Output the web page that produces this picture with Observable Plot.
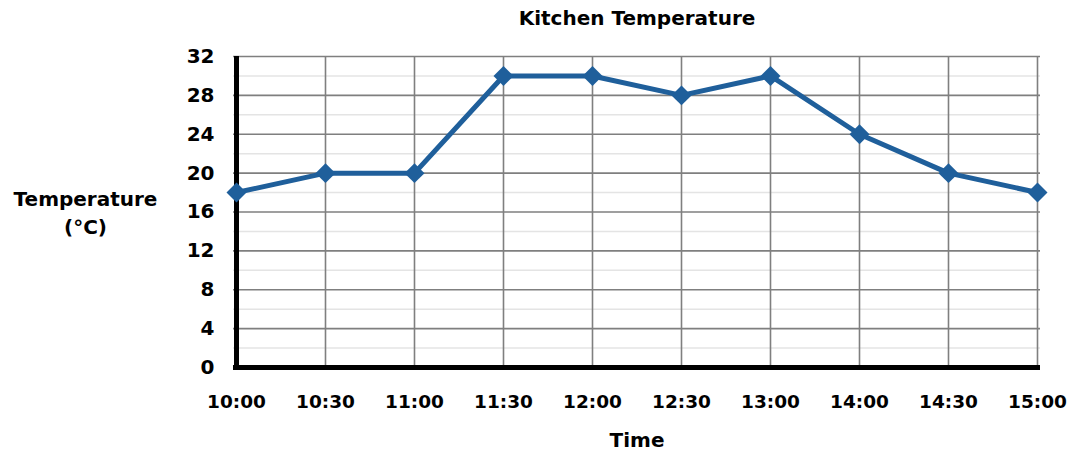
<!DOCTYPE html>
<html>
<head>
<meta charset="utf-8">
<script src="https://cdn.jsdelivr.net/npm/d3@7"></script>
<script src="https://cdn.jsdelivr.net/npm/@observablehq/plot@0.6"></script>
<style>
  html, body { margin: 0; padding: 0; background: #fff; }
  svg { display: block; }
</style>
</head>
<body>
<div id="chart"></div>
<script>
const times = ["10:00", "10:30", "11:00", "11:30", "12:00", "12:30", "13:00", "14:00", "14:30", "15:00"];
const temps = [18, 20, 20, 30, 30, 28, 30, 24, 20, 18];
const majorTicks = [0, 4, 8, 12, 16, 20, 24, 28, 32];
const minorTicks = [2, 6, 10, 14, 18, 22, 26, 30];

const data = times.map((t, i) => ({time: t, temp: temps[i]}));
const FONT = "DejaVu Sans, sans-serif";
const first = times[0];

const chart = Plot.plot({
  width: 1078,
  height: 453,
  marginLeft: 233,
  marginRight: 38,
  marginTop: 56,
  marginBottom: 86,
  style: {fontFamily: FONT, background: "#fff"},
  x: {type: "point", domain: times, padding: 0, axis: null},
  y: {domain: [0, 32], axis: null},
  marks: [
    Plot.ruleY(minorTicks, {stroke: "#e4e4e4", strokeWidth: 1.5}),
    Plot.ruleY(majorTicks.filter(d => d > 0), {stroke: "#7f7f7f", strokeWidth: 1.6}),
    Plot.ruleX(times.slice(1), {stroke: "#7f7f7f", strokeWidth: 1.6}),
    Plot.ruleX([first], {stroke: "#000", strokeWidth: 5}),
    Plot.ruleY([0], {stroke: "#000", strokeWidth: 5}),
    Plot.line(data, {x: "time", y: "temp", stroke: "#1f5f9b", strokeWidth: 5, strokeLinejoin: "round"}),
    Plot.dot(data, {x: "time", y: "temp", symbol: "diamond2", r: 9, fill: "#1f5f9b", stroke: "none"}),
    // y tick labels
    Plot.text(majorTicks, {x: () => first, y: d => d, text: d => String(d), dx: -22, textAnchor: "end", fontSize: 20, fontWeight: "bold", fill: "#000"}),
    // x tick labels
    Plot.text(times, {x: d => d, y: () => 0, text: d => d, dy: 35, fontSize: 18.5, fontWeight: "bold", fill: "#000"}),
    // axis titles
    Plot.text(["Time"], {frameAnchor: "bottom", text: d => d, dy: 79, fontSize: 20, fontWeight: "bold", fill: "#000"}),
    Plot.text(["Temperature"], {frameAnchor: "left", text: d => d, dx: -148, dy: -28 + 16, textAnchor: "middle", fontSize: 20, fontWeight: "bold", fill: "#000"}),
    Plot.text(["(°C)"], {frameAnchor: "left", text: d => d, dx: -148, dy: 16, textAnchor: "middle", fontSize: 20, fontWeight: "bold", fill: "#000"}),
    // title
    Plot.text(["Kitchen Temperature"], {frameAnchor: "top", text: d => d, dy: -46, fontSize: 20, fontWeight: "bold", fill: "#000"})
  ]
});

document.getElementById("chart").appendChild(chart);
</script>
</body>
</html>
